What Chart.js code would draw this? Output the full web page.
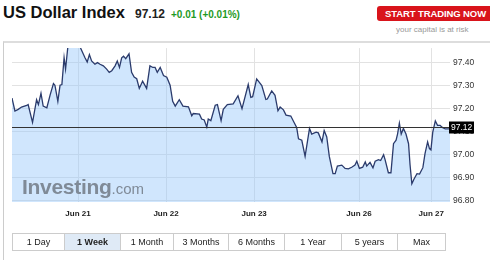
<!DOCTYPE html>
<html>
<head>
<meta charset="utf-8">
<script src="https://cdn.jsdelivr.net/npm/chart.js@4.4.0/dist/chart.umd.min.js"></script>
<style>
  body { margin: 0; background: #fff; font-family: "Liberation Sans", Arial, sans-serif; }
  #wrap { position: relative; width: 490px; height: 260px; overflow: hidden; }
  .abs { position: absolute; white-space: nowrap; }
  #title { left: 3px; top: 3px; font-size: 16.5px; font-weight: bold; color: #111; }
  #price { left: 135px; top: 7px; font-size: 12px; font-weight: bold; color: #222; }
  #change { left: 171px; top: 9px; font-size: 10px; font-weight: bold; color: #1f9a1f; }
  #trade { left: 377px; top: 6px; width: 116px; height: 15px; background: #d9141b; border-radius: 3px;
           color: #fff; font-size: 9.5px; font-weight: bold; line-height: 15px; text-indent: 8px; letter-spacing: -0.1px; }
  #risk { left: 396px; top: 25px; font-size: 8px; color: #999; }
  #frame { left: 3px; top: 41px; width: 490px; height: 230px; border-top: 2px solid #ddd; border-left: 1px solid #ccc; pointer-events: none; }
  #canvasBox { left: 0; top: 40px; width: 490px; height: 190px; }
  #logo { left: 22px; top: 175px; color: #7f8a97; }
  #logo b { font-size: 21px; letter-spacing: -0.3px; }
  #logo span { font-size: 15px; }
  #ranges { left: 12px; top: 233px; display: flex; border: 1px solid #ccc; height: 16px; }
  #ranges div { border-right: 1px solid #ccc; font-size: 9px; color: #222; text-align: center; line-height: 16px; }
  #ranges div:last-child { border-right: none; }
  #ranges .on { background: #dfeaf6; font-weight: bold; }
</style>
</head>
<body>
<div id="wrap">
  <div class="abs" id="title">US Dollar Index</div>
  <div class="abs" id="price">97.12</div>
  <div class="abs" id="change">+0.01 (+0.01%)</div>
  <div class="abs" id="trade">START TRADING NOW</div>
  <div class="abs" id="risk">your capital is at risk</div>
  <div class="abs" id="canvasBox"><canvas id="dxyChart"></canvas></div>
  <div class="abs" id="logo"><b>Investing</b><span>.com</span></div>
  <div class="abs" id="frame"></div>
  <div class="abs" id="ranges"></div>
</div>
<script>
// Données (heures de cotation depuis le 20 juin 00:00)
const hours = [6.0, 6.8, 7.7, 8.6, 10.0, 10.4, 11.6, 12.7, 13.2, 13.9, 14.5, 15.5, 16.4, 17.3, 17.7, 18.5, 19.1, 19.6,
  20.2, 20.6, 21.3, 22.5, 23.5, 24.5, 25.9, 26.5, 27.1, 27.7, 28.6, 29.3, 30.0, 30.9, 31.8, 32.5, 33.2, 34.1, 34.7,
  35.3, 35.9, 36.4, 37.0, 37.9, 38.6, 39.3, 40.0, 40.7, 41.6, 42.7, 43.6, 44.4, 45.0, 45.6, 46.4, 47.3, 48.2, 49.1,
  49.8, 50.5, 51.6, 52.6, 54.1, 55.0, 55.4, 57.1, 57.7, 58.4, 59.1, 59.5, 60.2, 61.4, 62.0, 63.0, 63.6, 64.7, 66.3,
  67.6, 68.7, 70.4, 71.1, 71.6, 72.7, 74.1, 75.2, 75.6, 76.8, 77.7, 78.5, 79.1, 80.0, 80.7, 82.0, 82.9, 83.6, 84.1,
  85.0, 85.9, 87.1, 87.7, 88.9, 89.5, 90.5, 91.1, 91.8, 92.5, 93.5, 94.1, 94.7, 95.9, 96.8, 97.7, 98.6, 99.5, 100.0,
  100.7, 101.6, 102.3, 102.7, 103.6, 104.4, 105.0, 105.9, 106.5, 107.3, 107.7, 108.6, 109.3, 110.0, 110.7, 111.1,
  111.6, 112.1, 112.7, 113.4, 114.1, 114.5, 115.0, 115.6, 116.4, 117.1, 118.0, 118.6, 119.3, 119.8, 120.2, 120.7,
  121.4, 122.0, 122.7, 123.3, 124.1, 125.0, 125.4];

const prices = [97.246, 97.190, 97.197, 97.207, 97.214, 97.218, 97.141, 97.239, 97.218, 97.267, 97.211, 97.204,
  97.260, 97.309, 97.302, 97.232, 97.302, 97.305, 97.421, 97.372, 97.480, 97.520, 97.500, 97.470, 97.421, 97.403,
  97.435, 97.407, 97.393, 97.400, 97.393, 97.386, 97.372, 97.358, 97.365, 97.386, 97.407, 97.379, 97.421, 97.428,
  97.417, 97.438, 97.358, 97.337, 97.330, 97.288, 97.319, 97.288, 97.386, 97.379, 97.379, 97.358, 97.379, 97.344,
  97.337, 97.302, 97.232, 97.211, 97.239, 97.211, 97.208, 97.169, 97.179, 97.176, 97.155, 97.151, 97.120, 97.155,
  97.148, 97.215, 97.218, 97.148, 97.197, 97.218, 97.221, 97.256, 97.200, 97.305, 97.249, 97.252, 97.329, 97.300,
  97.240, 97.242, 97.277, 97.258, 97.191, 97.207, 97.195, 97.172, 97.168, 97.140, 97.119, 97.069, 97.063, 96.993,
  97.114, 97.090, 97.098, 97.095, 97.056, 97.105, 97.077, 96.993, 96.918, 96.918, 96.951, 96.955, 96.941, 96.939,
  96.946, 96.955, 96.972, 96.941, 96.946, 96.969, 96.951, 96.967, 96.943, 96.972, 96.979, 96.975, 97.000, 96.979,
  96.922, 96.922, 97.048, 97.063, 97.090, 97.137, 97.090, 97.114, 97.090, 97.048, 96.958, 96.874, 96.895, 96.918,
  96.916, 96.944, 97.006, 97.056, 97.027, 97.021, 97.098, 97.147, 97.128, 97.128, 97.119, 97.112, 97.112, 97.115];

const dayTicks = [24, 48, 72, 100.6, 120.3];
const dayLabels = ['Jun 21', 'Jun 22', 'Jun 23', 'Jun 26', 'Jun 27'];
const priceTicks = [96.80, 96.90, 97.00, 97.10, 97.20, 97.30, 97.40];
const lastPrice = 97.12;
const rangeLabels = ['1 Day', '1 Week', '1 Month', '3 Months', '6 Months', '1 Year', '5 years', 'Max'];
const rangeWidths = [51, 55, 52, 54, 55, 56, 55, 47];

// Boutons de période
const ranges = document.getElementById('ranges');
rangeLabels.forEach((label, i) => {
    const d = document.createElement('div');
    d.textContent = label;
    d.style.width = rangeWidths[i] + 'px';
    if (label === '1 Week') d.className = 'on';
    ranges.appendChild(d);
});

// Ligne du dernier cours + étiquette
const lastPricePlugin = {
    id: 'lastPrice',
    afterDatasetsDraw(chart) {
        const { ctx, chartArea, scales } = chart;
        const y = Math.round(scales.y.getPixelForValue(lastPrice)) + 0.5;
        ctx.save();
        ctx.strokeStyle = '#333';
        ctx.lineWidth = 1;
        ctx.beginPath();
        ctx.moveTo(chartArea.left, y);
        ctx.lineTo(chartArea.right, y);
        ctx.stroke();
        ctx.fillStyle = '#000';
        ctx.fillRect(chartArea.right - 1, y - 6, 25, 12);
        ctx.fillStyle = '#fff';
        ctx.font = '8.5px "Liberation Sans", Arial';
        ctx.textBaseline = 'middle';
        ctx.fillText(lastPrice.toFixed(2), chartArea.right + 1, y + 0.5);
        ctx.restore();
    }
};

const canvas = document.getElementById('dxyChart');
canvas.width = 490;
canvas.height = 190;

window.dxyChart = new Chart(canvas.getContext('2d'), {
    type: 'line',
    data: {
        datasets: [{
            data: hours.map((h, i) => ({ x: h, y: prices[i] })),
            borderColor: '#2b3b6c',
            borderWidth: 1.3,
            backgroundColor: 'rgba(150, 200, 250, 0.45)',
            fill: 'start',
            pointRadius: 0,
            tension: 0
        }]
    },
    options: {
        responsive: false,
        animation: false,
        layout: { padding: { left: 12, top: 3, right: 0, bottom: 0 } },
        plugins: { legend: { display: false }, tooltip: { enabled: false } },
        scales: {
            x: {
                type: 'linear',
                min: 6,
                max: 125.4,
                afterFit: s => { s.height = 28; },
                afterBuildTicks: s => { s.ticks = dayTicks.map(v => ({ value: v })); },
                grid: { color: '#e2e2e2', drawTicks: false },
                border: { display: false },
                ticks: {
                    padding: 7,
                    color: '#222',
                    font: { size: 8, weight: 'bold', family: '"Liberation Sans", Arial' },
                    callback: v => dayLabels[dayTicks.indexOf(v)]
                }
            },
            y: {
                position: 'right',
                min: 96.795,
                max: 97.463,
                afterFit: s => { s.width = 40; },
                afterBuildTicks: s => { s.ticks = priceTicks.map(v => ({ value: v })); },
                grid: { color: '#e2e2e2', drawTicks: false },
                border: { display: false },
                ticks: {
                    padding: 3,
                    color: '#333',
                    font: { size: 8.5, family: '"Liberation Sans", Arial' },
                    callback: v => v.toFixed(2)
                }
            }
        }
    },
    plugins: [lastPricePlugin]
});
</script>
</body>
</html>
